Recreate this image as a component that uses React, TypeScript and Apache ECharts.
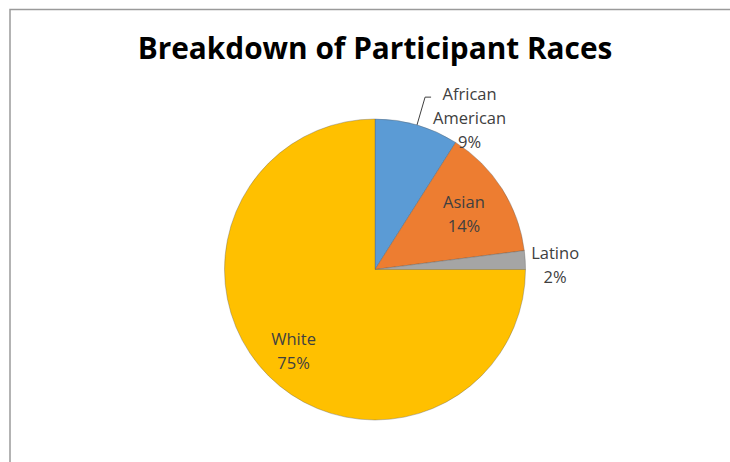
import React, { useEffect, useRef } from "react";
import * as echarts from "echarts";

const titleText = "Breakdown of Participant Races";
const categories = ["African American", "Asian", "Latino", "White"];
const labelNames = ["African\nAmerican", "Asian", "Latino", "White"];
const values = [9, 14, 2, 75];
const colors = ["#5B9BD5", "#ED7D31", "#A5A5A5", "#FFC000"];

export default function App() {
  const ref = useRef<HTMLDivElement>(null);

  useEffect(() => {
    if (!ref.current) return;
    const chart = echarts.init(ref.current, null, { renderer: "svg" });

    const cx = 375;
    const cy = 269.5;
    const R = 150.5;
    const total = values.reduce((a, b) => a + b, 0);
    const midAngles: number[] = [];
    let acc = 0;
    values.forEach((v) => {
      const mid = 90 - (360 * (acc + v / 2)) / total;
      midAngles.push((mid * Math.PI) / 180);
      acc += v;
    });
    const polar = (a: number, r: number) => [cx + r * Math.cos(a), cy - r * Math.sin(a)];
    const insideRadius = [0, 0.7, 0, 0.765];

    const labelFont = {
      fontFamily: "'Open Sans', sans-serif",
      fontSize: 16.5,
      lineHeight: 24,
      color: "#404040",
    };

    const data = categories.map((name, i) => {
      const outside = i === 0 || i === 2;
      return {
        name,
        value: values[i],
        itemStyle: { color: colors[i] },
        label: {
          show: true,
          position: outside ? "outside" : "inside",
          formatter: (p: any) => `${labelNames[p.dataIndex]}\n${Math.round(p.percent)}%`,
          ...labelFont,
        },
        labelLine: { show: i === 0, lineStyle: { color: "#404040", width: 1 } },
      };
    });

    chart.setOption({
      animation: false,
      backgroundColor: "#ffffff",
      title: {
        text: titleText,
        left: 370,
        top: 27,
        textAlign: "center",
        textStyle: {
          fontFamily: "'Open Sans', sans-serif",
          fontWeight: "bold",
          fontSize: 29.8,
          color: "#000000",
        },
      },
      graphic: [
        {
          type: "rect",
          shape: { x: 10, y: 9.5, width: 900, height: 600 },
          style: { fill: "none", stroke: "#9a9a9a", lineWidth: 1.5 },
          silent: true,
        },
      ],
      series: [
        {
          type: "pie",
          center: [cx, cy],
          radius: R,
          startAngle: 90,
          clockwise: true,
          avoidLabelOverlap: false,
          itemStyle: { borderColor: "rgba(90,90,90,0.45)", borderWidth: 0.8 },
          data,
          labelLayout: (params: any) => {
            const i = params.dataIndex;
            const a = midAngles[i];
            const w = params.labelRect.width;
            if (i === 0) {
              const e = polar(a, R);
              const k = polar(a, R + 29);
              const end = [k[0] + 6, k[1]];
              return {
                x: end[0] + 2 + w / 2,
                y: k[1] + 20,
                align: "center",
                verticalAlign: "middle",
                labelLinePoints: [e, k, end],
              };
            }
            if (i === 2) {
              const e = polar(a, R);
              return { x: e[0] + 6 + w / 2, y: e[1] + 4, align: "center", verticalAlign: "middle" };
            }
            const p = polar(a, R * insideRadius[i]);
            return { x: p[0], y: p[1], align: "center", verticalAlign: "middle" };
          },
        },
      ],
    });

    return () => chart.dispose();
  }, []);

  return (
    <div
      ref={ref}
      style={{ position: "fixed", left: 0, top: 0, width: 730, height: 462, background: "#fff" }}
    />
  );
}
